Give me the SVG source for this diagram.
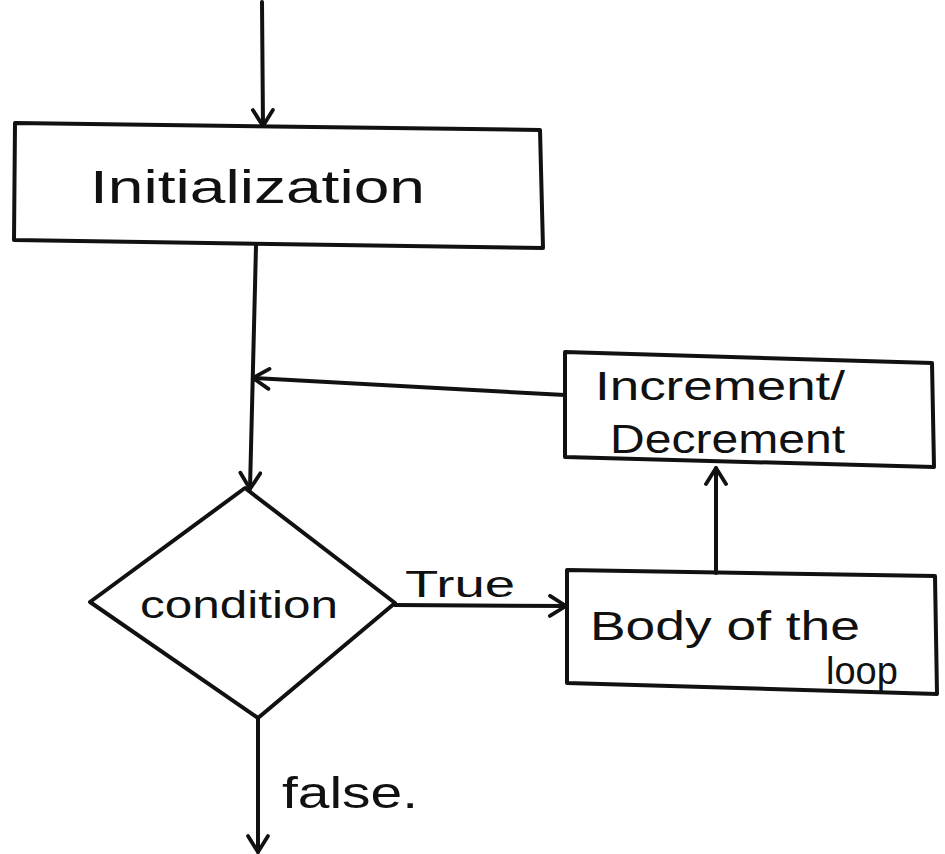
<svg xmlns="http://www.w3.org/2000/svg" width="945" height="854" viewBox="0 0 945 854">
<defs>
<style>
.s{fill:none;stroke:#111;stroke-width:4;stroke-linecap:round;stroke-linejoin:round}
.t{font-family:"Liberation Sans","DejaVu Sans",sans-serif;fill:#111}
</style>
<marker id="a" viewBox="0 0 24 24" refX="21" refY="12" markerWidth="24" markerHeight="24" markerUnits="userSpaceOnUse" orient="auto">
<path d="M5,2 L21,12 L5,22" fill="none" stroke="#111" stroke-width="3.8" stroke-linecap="round" stroke-linejoin="round"/>
</marker>
</defs>
<rect width="945" height="854" fill="#fff"/>
<g id="connectors">
<path class="s" d="M262,2 L263,126" marker-end="url(#a)"/>
<path class="s" d="M256,246 L250,489" marker-end="url(#a)"/>
<path class="s" d="M565,395 L253,378" marker-end="url(#a)"/>
<path class="s" d="M395,605 L566,606" marker-end="url(#a)"/>
<path class="s" d="M716,573 L716,468" marker-end="url(#a)"/>
<path class="s" d="M258,718 L258,852" marker-end="url(#a)"/>
</g>
<g id="initialization">
<polygon class="s" points="15,123 540,130 543,248 14,240"/>
<text class="t" x="90" y="203" font-size="46" textLength="335" lengthAdjust="spacingAndGlyphs">Initialization</text>
</g>
<g id="increment">
<polygon class="s" points="565,352 932,363 934,467 565,457"/>
<text class="t" x="595" y="400" font-size="40" textLength="250" lengthAdjust="spacingAndGlyphs">Increment/</text>
<text class="t" x="610" y="453" font-size="40" textLength="235" lengthAdjust="spacingAndGlyphs">Decrement</text>
</g>
<g id="condition">
<polygon class="s" points="245,488 395,603 258,718 90,602"/>
<text class="t" x="140" y="618" font-size="38" textLength="198" lengthAdjust="spacingAndGlyphs">condition</text>
</g>
<g id="body">
<polygon class="s" points="567,570 935,576 937,694 567,683"/>
<text class="t" x="590" y="640" font-size="40" textLength="270" lengthAdjust="spacingAndGlyphs">Body of the</text>
<text class="t" x="826" y="684" font-size="38">loop</text>
</g>
<g id="labels">
<text class="t" x="405" y="597" font-size="36" textLength="110" lengthAdjust="spacingAndGlyphs">True</text>
<text class="t" x="282" y="808" font-size="44" textLength="136" lengthAdjust="spacingAndGlyphs">false.</text>
</g>
</svg>
